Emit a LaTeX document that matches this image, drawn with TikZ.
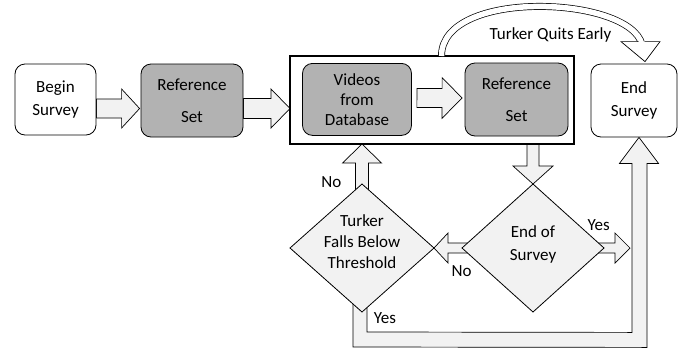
\documentclass[tikz,border=0pt]{standalone}
\usepackage{fontspec}
\setmainfont{Carlito}
\usetikzlibrary{calc,shapes.geometric,backgrounds}
\definecolor{boxgray}{HTML}{B2B2B2}
\definecolor{lightfill}{HTML}{F2F2F2}
% #1 start, #2 tip, #3 shaft half width, #4 head half width, #5 head length
\newcommand{\blockarrow}[5]{%
  \coordinate (bah) at ($(#2)!#5!(#1)$);
  \draw[blk] ($(#1)!#3!90:(#2)$) -- ($(bah)!#3!90:(#2)$) -- ($(bah)!#4!90:(#2)$) -- (#2)
    -- ($(bah)!#4!-90:(#2)$) -- ($(bah)!#3!-90:(#2)$) -- ($(#1)!#3!-90:(#2)$) -- cycle;
}
\tikzset{
  rbox/.style={draw=black, line width=0.8pt, rounded corners=10pt, inner sep=0pt, align=center},
  gbox/.style={rbox, fill=boxgray},
  wbox/.style={rbox, fill=white},
  dia/.style={diamond, draw=black, line width=0.8pt, fill=lightfill, inner sep=0pt, outer sep=0pt},
  blk/.style={draw=black, line width=0.7pt, fill=lightfill, line join=miter},
  txt/.style={inner sep=0pt, align=center},
  lbl/.style={inner sep=0pt, anchor=base},
}
\begin{document}
\begin{tikzpicture}[x=1pt, y=-1pt, font=\fontsize{17}{20}\selectfont]
\useasboundingbox (0,0) rectangle (688,354);

% group frame
\node[draw=black, line width=1.2pt, minimum width=284pt, minimum height=88pt, inner sep=0pt, outer sep=0pt] (grp) at (432,100) {};

% boxes
\node[wbox, minimum width=81pt, minimum height=71pt, font=\fontsize{17}{22.3}\selectfont] (begin) at (55.5,99.5) {Begin\\Survey};
\node[gbox, minimum width=102pt, minimum height=73pt, font=\fontsize{17}{32}\selectfont] (ref1) at (192,100.5) {Reference\\Set};
\node[gbox, minimum width=109pt, minimum height=72pt, font=\fontsize{17}{20}\selectfont] (videos) at (357,99.4) {Videos\\from\\Database};
\node[gbox, minimum width=103pt, minimum height=73pt, font=\fontsize{17}{32}\selectfont] (ref2) at (516.5,99.5) {Reference\\Set};
\node[wbox, minimum width=86pt, minimum height=73pt, font=\fontsize{17}{22.3}\selectfont] (endn) at (634,100.5) {End\\Survey};

% decisions
\node[dia, minimum width=144pt, minimum height=128pt] (tf) at (362,248) {};
\node[dia, minimum width=142pt, minimum height=128pt] (eos) at (533,248) {};
\node[txt, font=\fontsize{17}{21.3}\selectfont] (tft) at (362,241.5) {Turker\\Falls Below\\Threshold};
\node[txt, font=\fontsize{17}{22.4}\selectfont] (eost) at (533,244.5) {End of\\Survey};

% block arrows (behind the shapes)
\begin{pgfonlayer}{background}
  \coordinate (a1s) at ($(begin.east)+(0,9)$);
  \coordinate (a1t) at ($(ref1.west)+(-1,8)$);
  \blockarrow{a1s}{a1t}{9.5pt}{19.5pt}{18pt}
  \coordinate (a2s) at ($(ref1.east)+(0,8)$);
  \coordinate (a2t) at ($(grp.west)+(0,8.5)$);
  \blockarrow{a2s}{a2t}{10pt}{19.5pt}{19pt}
  \coordinate (a3s) at ($(videos.east)+(5,-1.5)$);
  \coordinate (a3t) at ($(ref2.west)+(-2.5,-1.5)$);
  \blockarrow{a3s}{a3t}{9.5pt}{20.3pt}{20pt}
  \coordinate (dns) at (eos.north |- grp.south);
  \blockarrow{dns}{eos.north}{6pt}{20pt}{18pt}
  \coordinate (ups) at ($(tf.north)+(0,8)$);
  \coordinate (upt) at (tf.north |- grp.south);
  \blockarrow{ups}{upt}{6.5pt}{19.5pt}{19pt}
  \coordinate (lfs) at ($(eos.west)+(10,0)$);
  \blockarrow{lfs}{tf.east}{5pt}{15pt}{14pt}
  \coordinate (ys) at ($(eos.east)+(-8,0)$);
  \coordinate (yt) at ($(eos.east)+(26,0)$);
  \blockarrow{ys}{yt}{5pt}{15pt}{15pt}
  % L-shaped arrow to End Survey
  \coordinate (Lt) at ($(endn.south)+(5,0)$);
  \draw[blk] ($(tf.south)+(-9,-14)$) -- ($(tf.south)+(-9,35)$) -- ($(Lt)+(8,210)$)
    -- ($(Lt)+(8,26)$) -- ($(Lt)+(19.5,26)$) -- (Lt) -- ($(Lt)+(-19.5,26)$)
    -- ($(Lt)+(-7,26)$) -- ($(Lt)+(-7,195)$) -- ($(tf.south)+(5,20)$)
    -- ($(tf.south)+(5,-14)$) -- cycle;
\end{pgfonlayer}

% curved "quits early" arrow
\coordinate (qs) at ($(grp.north west)+(151.5,0)$);
\coordinate (qe) at ($(endn.north)+(8,-19)$);
\draw[line width=0.7pt, double=white, double distance=5.5pt]
  (qs) .. controls ($(qs)+(0,-68)$) and ($(qe)+(-12,-49)$) .. (qe);
\fill[white] ($(qe)+(-21,-3)$) -- ($(qe)+(3,17)$) -- ($(qe)+(18,-3)$) -- cycle;
\draw[line width=0.7pt, line join=miter] ($(qe)+(-3.5,-3)$) -- ($(qe)+(-21,-3)$) -- ($(qe)+(3,17)$) -- ($(qe)+(18,-3)$) -- ($(qe)+(3.2,-3)$);

% labels
\node[lbl] (quit) at (550.5,39.3) {Turker Quits Early};
\node[lbl] (no1) at (331.3,187.3) {No};
\node[lbl] (no2) at (461.7,276.7) {No};
\node[lbl] (yes1) at (598.7,230) {Yes};
\node[lbl] (yes2) at (385,323.5) {Yes};
\end{tikzpicture}
\end{document}
